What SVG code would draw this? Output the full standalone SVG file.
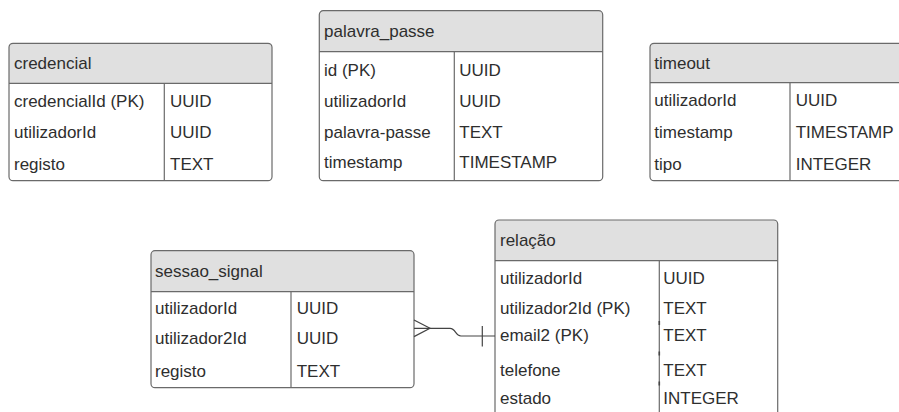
<svg xmlns="http://www.w3.org/2000/svg" width="899" height="412" viewBox="0 0 899 412">
<style>
.box{fill:none;stroke:#6a6a6a;stroke-width:1.2}
.hdr{fill:#e0e0e0;stroke:none}
.ln{stroke:#6a6a6a;stroke-width:1.2;fill:none}
.tick{stroke:#444;stroke-width:1.6}
text{font-family:"Liberation Sans",Arial,sans-serif;font-size:17px;fill:#2e2e2e}
.conn{stroke:#444;stroke-width:1.2;fill:none}
</style>
<rect width="899" height="412" fill="#ffffff"/>

<g id="credencial">
<path class="hdr" d="M9,83.3 V47.3 A4,4 0 0 1 13,43.3 H268 A4,4 0 0 1 272,47.3 V83.3 Z"/>
<rect class="box" x="9" y="43.3" width="263" height="137.4" rx="4"/>
<line class="ln" x1="9" y1="83.3" x2="272" y2="83.3"/>
<line class="ln" x1="164.3" y1="83.3" x2="164.3" y2="180.7"/>
<text x="14" y="69.3">credencial</text>
<text x="14" y="106.7">credencialId (PK)</text>
<text x="170" y="106.7">UUID</text>
<text x="14" y="138.3">utilizadorId</text>
<text x="170" y="138.3">UUID</text>
<text x="14" y="170">registo</text>
<text x="170" y="170">TEXT</text>
</g>

<g id="palavra_passe">
<path class="hdr" d="M319.3,51.7 V14.7 A4,4 0 0 1 323.3,10.7 H598.7 A4,4 0 0 1 602.7,14.7 V51.7 Z"/>
<rect class="box" x="319.3" y="10.7" width="283.4" height="170" rx="4"/>
<line class="ln" x1="319.3" y1="51.7" x2="602.7" y2="51.7"/>
<line class="ln" x1="454.3" y1="51.7" x2="454.3" y2="180.7"/>
<text x="324" y="37.3">palavra_passe</text>
<text x="324" y="76">id (PK)</text>
<text x="459.3" y="76">UUID</text>
<text x="324" y="107.3">utilizadorId</text>
<text x="459.3" y="107.3">UUID</text>
<text x="324" y="138.3">palavra-passe</text>
<text x="459.3" y="138.3">TEXT</text>
<text x="324" y="168.3">timestamp</text>
<text x="459.3" y="168.3">TIMESTAMP</text>
</g>

<g id="timeout">
<path class="hdr" d="M650,82.7 V47.3 A4,4 0 0 1 654,43.3 H930 V82.7 Z"/>
<rect class="box" x="650" y="43.3" width="280" height="137.4" rx="4"/>
<line class="ln" x1="650" y1="82.7" x2="930" y2="82.7"/>
<line class="ln" x1="790" y1="82.7" x2="790" y2="180.7"/>
<text x="654.3" y="69.3">timeout</text>
<text x="654.3" y="106">utilizadorId</text>
<text x="795.7" y="106">UUID</text>
<text x="654.3" y="138.3">timestamp</text>
<text x="795.7" y="138.3">TIMESTAMP</text>
<text x="654.3" y="170">tipo</text>
<text x="795.7" y="170">INTEGER</text>
</g>

<g id="sessao_signal">
<path class="hdr" d="M151,291.7 V254.7 A4,4 0 0 1 155,250.7 H410 A4,4 0 0 1 414,254.7 V291.7 Z"/>
<rect class="box" x="151" y="250.7" width="263" height="137" rx="4"/>
<line class="ln" x1="151" y1="291.7" x2="414" y2="291.7"/>
<line class="ln" x1="291" y1="291.7" x2="291" y2="387.7"/>
<text x="155" y="276.7">sessao_signal</text>
<text x="155" y="314">utilizadorId</text>
<text x="296.7" y="314">UUID</text>
<text x="155" y="344.3">utilizador2Id</text>
<text x="296.7" y="344.3">UUID</text>
<text x="155" y="376.7">registo</text>
<text x="296.7" y="376.7">TEXT</text>
</g>

<g id="relacao">
<path class="hdr" d="M495,260.7 V224 A4,4 0 0 1 499,220 H773.7 A4,4 0 0 1 777.7,224 V260.7 Z"/>
<rect class="box" x="495" y="220" width="282.7" height="220" rx="4"/>
<line class="ln" x1="495" y1="260.7" x2="777.7" y2="260.7"/>
<line class="ln" x1="659.3" y1="260.7" x2="659.3" y2="440"/>
<line class="tick" x1="659.3" y1="321" x2="659.3" y2="325"/>
<line class="tick" x1="659.3" y1="351.5" x2="659.3" y2="355.5"/>
<line class="tick" x1="659.3" y1="381.5" x2="659.3" y2="385.5"/>
<text x="500" y="246">relação</text>
<text x="500" y="284">utilizadorId</text>
<text x="663.3" y="284">UUID</text>
<text x="500" y="314">utilizador2Id (PK)</text>
<text x="663.3" y="314">TEXT</text>
<text x="500" y="340.7">email2 (PK)</text>
<text x="663.3" y="340.7">TEXT</text>
<text x="500" y="375.7">telefone</text>
<text x="663.3" y="375.7">TEXT</text>
<text x="500" y="404">estado</text>
<text x="663.3" y="404">INTEGER</text>
</g>

<g id="connectors">
<path class="conn" d="M414,328.3 H450 C456,328.3 455,336 461,336 H495"/>
<path class="conn" d="M414,320 L430,328.3 L414,336.6"/>
<line class="conn" x1="482.3" y1="326" x2="482.3" y2="346.5"/>
</g>
</svg>
